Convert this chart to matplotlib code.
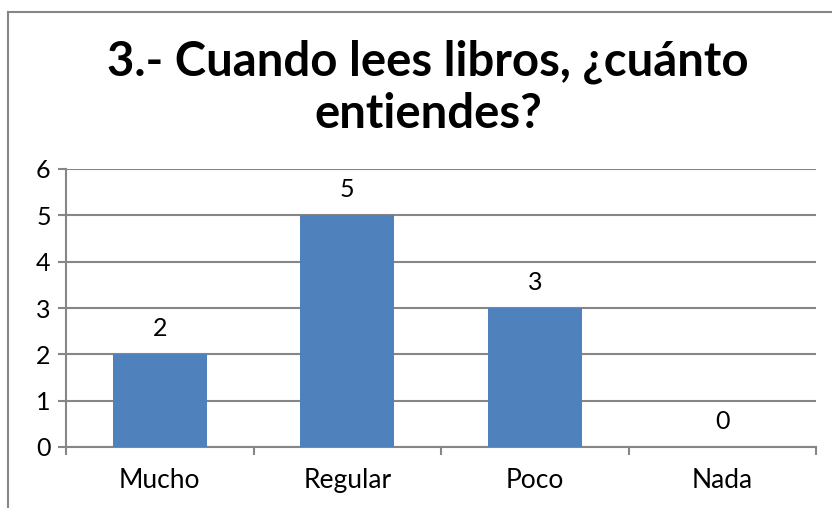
import matplotlib.pyplot as plt
from matplotlib.lines import Line2D

categories = ["Mucho", "Regular", "Poco", "Nada"]
values = [2, 5, 3, 0]
yticks = [0, 1, 2, 3, 4, 5, 6]

plt.rcParams['font.family'] = ['Lato', 'DejaVu Sans']
grid_col = '#868686'
bar_col = '#4F81BD'

fig = plt.figure(figsize=(8.32, 5.08), dpi=100)
ax = fig.add_axes([66/832, 1-447/508, 750/832, 278/508])

x = list(range(len(categories)))
ax.bar(x, values, width=0.5, color=bar_col, zorder=3)
for xi, v in zip(x, values):
    ax.text(xi, v + 0.3, str(v), ha='center', va='bottom', fontsize=18)

ax.set_xlim(-0.5, len(categories) - 0.5)
ax.set_ylim(0, 6)
ax.set_yticks(yticks)
ax.set_xticks(x)
ax.set_xticklabels(categories)
ax.set_xticks([i - 0.5 for i in range(len(categories) + 1)], minor=True)
ax.tick_params(axis='x', which='major', length=0, pad=15, labelsize=19)
ax.tick_params(axis='x', which='minor', length=6, color=grid_col, width=1.5)
ax.tick_params(axis='y', length=6, color=grid_col, width=1.5, labelsize=18, pad=5)
ax.yaxis.grid(True, color=grid_col, linewidth=1.5, zorder=0)
for s in ['top', 'right']:
    ax.spines[s].set_visible(False)
for s in ['left', 'bottom']:
    ax.spines[s].set_color(grid_col)
    ax.spines[s].set_linewidth(1.5)

# outer frame (left and top edges visible)
fig.add_artist(Line2D([8/832, 8/832], [0, 1-12/508], transform=fig.transFigure, color=grid_col, lw=1.5))
fig.add_artist(Line2D([8/832, 1], [1-12/508, 1-12/508], transform=fig.transFigure, color=grid_col, lw=1.5))

fig.text(428/832, 1-76/508, "3.- Cuando lees libros, ¿cuánto", ha='center', va='baseline',
         fontsize=34, fontweight='bold')
fig.text(428/832, 1-128/508, "entiendes?", ha='center', va='baseline',
         fontsize=34, fontweight='bold')

fig.savefig("out.png", dpi=100)
